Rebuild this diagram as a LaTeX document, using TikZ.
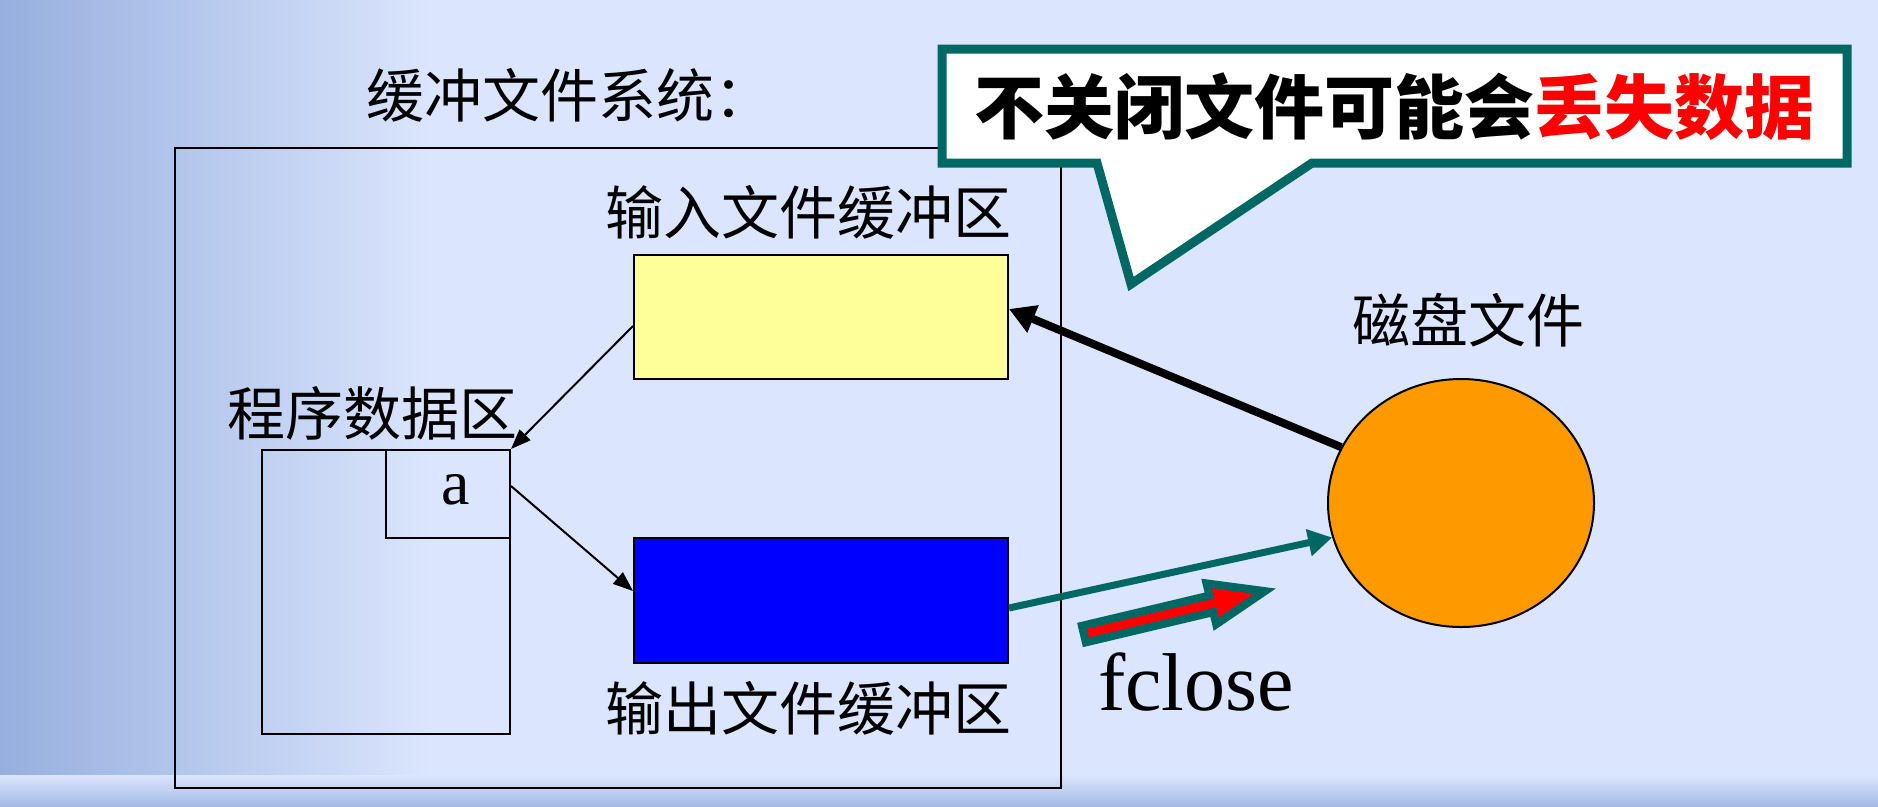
\documentclass[tikz,border=0pt]{standalone}
\usepackage{fontspec}
\setmainfont{Liberation Serif}
\newfontfamily\cjk{Noto Sans CJK SC}
\usetikzlibrary{arrows.meta,shapes.geometric}
\definecolor{bgblue}{RGB}{219,229,253}
\definecolor{bgdark}{RGB}{150,175,222}
\definecolor{tealc}{RGB}{0,104,100}
\definecolor{yellowc}{RGB}{255,255,153}
\definecolor{bluec}{RGB}{0,0,255}
\definecolor{orangec}{RGB}{255,153,0}
\definecolor{redc}{RGB}{255,0,0}
\tikzset{
  boxc/.style={draw=black, line width=2pt, rectangle, inner sep=0pt},
  cjklabel/.style={font=\cjk\fontsize{58pt}{64pt}\selectfont, inner sep=0pt},
  thinarrow/.style={line width=2pt, -{Triangle[length=20pt,width=15pt]}},
  thickarrow/.style={line width=8pt, -{Triangle[length=26pt,width=28pt]}},
  tealarrow/.style={draw=tealc, line width=7pt, -{Triangle[length=24pt,width=26pt]}},
}
\begin{document}
\begin{tikzpicture}[x=1pt,y=-1pt]
\useasboundingbox (0,0) rectangle (1878,806);
% background
\fill[bgblue] (0,0) rectangle (1878,806);
\shade[left color=bgdark, right color=bgblue] (0,0) rectangle (430,806);
\shade[top color=bgblue, bottom color=bgdark!80!bgblue] (0,775) rectangle (1878,806);

% system box
\node[boxc, minimum width=886pt, minimum height=640pt, anchor=north west] (sys) at (174,147) {};
\node[cjklabel] (systitle) at (569,95) {缓冲文件系统：};

% buffers
\node[boxc, fill=yellowc, minimum width=374pt, minimum height=124pt] (inbuf) at (821,317) {};
\node[cjklabel] (inlabel) at (808,212) {输入文件缓冲区};
\node[boxc, fill=bluec, minimum width=374pt, minimum height=125pt] (outbuf) at (821,600.5) {};
\node[cjklabel] (outlabel) at (808,708) {输出文件缓冲区};

% program data area
\node[boxc, minimum width=248pt, minimum height=284pt] (prog) at (386,592) {};
\node[boxc, minimum width=124pt, minimum height=88pt] (abox) at (448,494) {};
\node[font=\fontsize{64pt}{70pt}\selectfont, inner sep=0pt] (atext) at (456,490) {a};
\node[cjklabel] (proglabel) at (372,413) {程序数据区};

% disk
\node[draw=black, line width=2pt, ellipse, fill=orangec, minimum width=266pt, minimum height=248pt, inner sep=0pt] (disk) at (1461,503) {};
\node[cjklabel] (disklabel) at (1468,320) {磁盘文件};

% arrows
\draw[thinarrow] ([yshift=-9pt]inbuf.west) -- (prog.north east);
\draw[thinarrow] ([yshift=8pt]abox.east) -- ([yshift=9.5pt]outbuf.west);
\draw[thickarrow] (disk.155) -- ([yshift=8pt]inbuf.east);
\draw[tealarrow] ([yshift=-7.5pt]outbuf.east) -- (disk.195);

% fat fclose arrow
\coordinate (fattail) at (1080,635);
\begin{scope}[shift={(fattail)}, rotate=13.35]
  \filldraw[fill=redc, draw=tealc, line width=8pt, line join=miter, miter limit=10]
    (4,-8.5) -- (135,-8.5) -- (135,-21) -- (190,0) -- (135,21) -- (135,8.5) -- (4,8.5) -- cycle;
\end{scope}
\node[font=\fontsize{82pt}{90pt}\selectfont, inner sep=0pt, anchor=base] (fclose) at (1196,710) {fclose};

% callout
\filldraw[fill=white, draw=tealc, line width=9pt, line join=miter]
  (942,49) -- (1847,49) -- (1847,163) -- (1312,163) -- (1131,284) -- (1097,163) -- (942,163) -- cycle;
\node[font=\cjk\bfseries\fontsize{70pt}{76pt}\selectfont, inner sep=0pt] (callout) at (1394,107)
  {不关闭文件可能会\textcolor{redc}{丢失数据}};
\end{tikzpicture}
\end{document}
